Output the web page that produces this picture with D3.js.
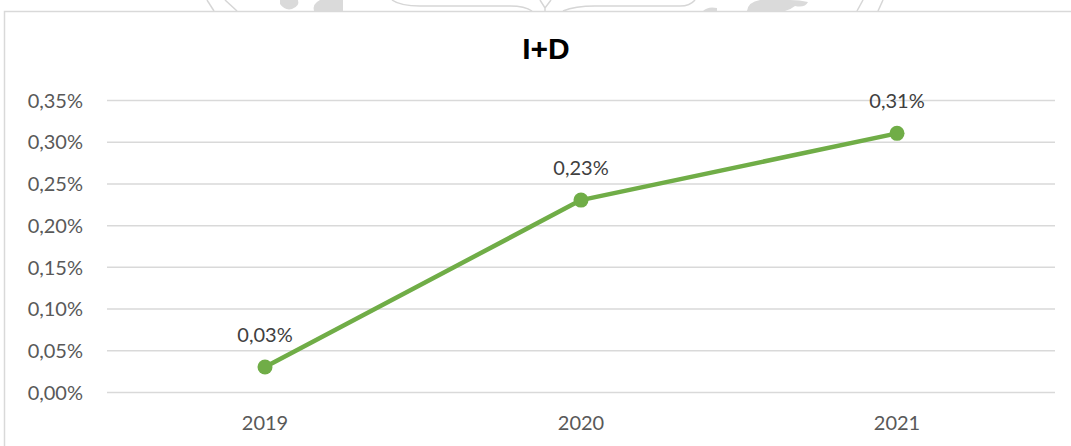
<!DOCTYPE html>
<html>
<head>
<meta charset="utf-8">
<script src="https://cdn.jsdelivr.net/npm/d3@7"></script>
<style>
  body { margin: 0; background: #fff; }
  svg { display: block; }
</style>
</head>
<body>
<div id="chart"></div>
<script>
// data
const years = ['2019', '2020', '2021'];
const values = [0.03, 0.23, 0.31];
const yTicks = [0, 0.05, 0.10, 0.15, 0.20, 0.25, 0.30, 0.35];

const W = 1071, H = 446;
const plot = { left: 107, right: 1055, top: 100, bottom: 392 };
const txtFont = 'Lato, Open Sans, sans-serif';

const svg = d3.select('#chart')
  .append('svg')
  .attr('width', W)
  .attr('height', H);

// faint page watermark peeking above the chart frame
const wm = svg.append('g').attr('fill', 'none').attr('stroke', '#d6d6d6').attr('stroke-width', 1.5);
wm.append('path').attr('d', 'M207,0 L214,11');
wm.append('path').attr('d', 'M225,0 L237,11');
wm.append('path').attr('d', 'M392,0 Q400,6 420,6 L510,6 Q525,6 532,11');
wm.append('path').attr('d', 'M540,0 L545,8 L551,0 M545,8 L545,11');
wm.append('path').attr('d', 'M563,11 Q575,6 595,6 L680,6 Q690,6 695,0');
wm.append('path').attr('d', 'M863,0 L857,11');
wm.append('path').attr('d', 'M883,0 L878,11');
const wmf = svg.append('g').attr('fill', '#dadada');
wmf.append('path').attr('d', 'M280,0 L298,0 Q300,6 292,9 Q285,11 280,4 Z');
wmf.append('path').attr('d', 'M314,11 Q312,4 320,0 L343,0 L343,11 Z');
wmf.append('path').attr('d', 'M703,11 Q708,6 717,8 L717,11 Z');
wmf.append('path').attr('d', 'M747,11 Q748,2 760,0 L790,0 Q800,0 808,2 Q805,8 795,6 Q790,10 785,11 Z');

// chart border
svg.append('rect')
  .attr('x', 4.5).attr('y', 11.5)
  .attr('width', W).attr('height', H)
  .attr('fill', '#fff')
  .attr('stroke', '#d9d9d9')
  .attr('stroke-width', 1.5);

const x = d3.scaleBand()
  .domain(years)
  .range([plot.left, plot.right]);

const y = d3.scaleLinear()
  .domain([0, 0.35])
  .range([plot.bottom, plot.top]);

const fmt = v => d3.format('.2f')(v).replace('.', ',') + '%';

// gridlines + y labels
const yAxis = d3.axisLeft(y)
  .tickValues(yTicks)
  .tickSize(-(plot.right - plot.left))
  .tickPadding(24)
  .tickFormat(fmt);

const gy = svg.append('g')
  .attr('transform', `translate(${plot.left},0)`)
  .call(yAxis);
gy.select('.domain').remove();
gy.selectAll('.tick line').attr('stroke', '#d9d9d9').attr('stroke-width', 1.5);
gy.selectAll('.tick text')
  .attr('fill', '#595959')
  .attr('dy', '0.36em')
  .style('font-family', txtFont)
  .style('font-size', '20px');

// x labels
const xAxis = d3.axisBottom(x).tickSize(0).tickPadding(0);
const gx = svg.append('g')
  .attr('transform', `translate(0,${plot.bottom})`)
  .call(xAxis);
gx.select('.domain').remove();
gx.selectAll('.tick text')
  .attr('y', 38)
  .attr('dy', 0)
  .attr('fill', '#595959')
  .style('font-family', txtFont)
  .style('font-size', '20px');

// title
svg.append('text')
  .attr('x', 546).attr('y', 59)
  .attr('text-anchor', 'middle')
  .style('font-family', 'Liberation Sans, Arial, sans-serif')
  .style('font-weight', 'bold')
  .style('font-size', '30px')
  .attr('fill', '#000')
  .text('I+D');

// line
const cx = (d, i) => x(years[i]) + x.bandwidth() / 2;
const line = d3.line()
  .x(cx)
  .y(d => y(d));

svg.append('path')
  .datum(values)
  .attr('d', line)
  .attr('fill', 'none')
  .attr('stroke', '#70ad47')
  .attr('stroke-width', 4.5)
  .attr('stroke-linejoin', 'round');

svg.selectAll('.dot')
  .data(values)
  .enter()
  .append('circle')
  .attr('class', 'dot')
  .attr('cx', cx)
  .attr('cy', d => y(d))
  .attr('r', 7.5)
  .attr('fill', '#70ad47');

svg.selectAll('.lbl')
  .data(values)
  .enter()
  .append('text')
  .attr('class', 'lbl')
  .attr('x', cx)
  .attr('y', d => y(d) - 25)
  .attr('text-anchor', 'middle')
  .attr('fill', '#404040')
  .style('font-family', txtFont)
  .style('font-size', '20px')
  .text(fmt);
</script>
</body>
</html>
